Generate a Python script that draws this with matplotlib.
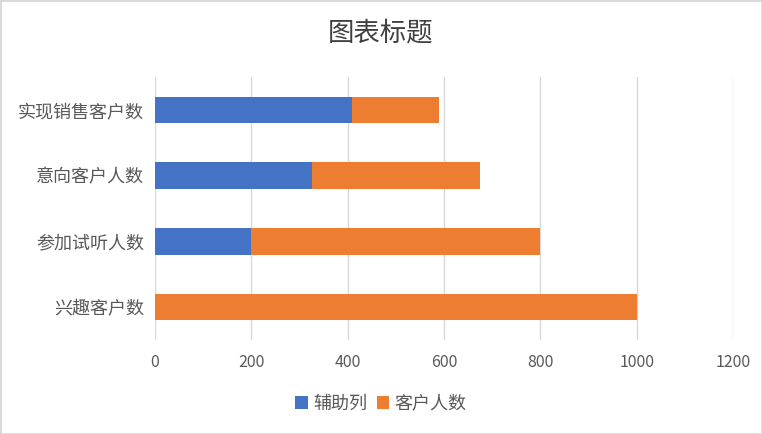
import matplotlib.pyplot as plt
from matplotlib.patches import Rectangle

plt.rcParams['font.family'] = ['Noto Sans CJK SC', 'DejaVu Sans']

# 数据
categories = ["兴趣客户数", "参加试听人数", "意向客户人数", "实现销售客户数"]
helper = [0, 200, 325, 410]
customers = [1000, 600, 350, 180]

fig = plt.figure(figsize=(7.62, 4.34), dpi=100)
ax = fig.add_axes([0.2034, 0.2166, 0.7586, 0.606])

ax.barh(categories, helper, height=0.4, color='#4472C4', label='辅助列', zorder=3)
ax.barh(categories, customers, left=helper, height=0.4, color='#ED7D31', label='客户人数', zorder=3)

ax.set_xlim(0, 1200)
ax.set_ylim(-0.5, 3.5)
ax.set_xticks(range(0, 1201, 200))
ax.grid(axis='x', color='#D9D9D9', linewidth=1, zorder=0)
for s in ax.spines.values():
    s.set_visible(False)
ax.tick_params(length=0, colors='#595959')
ax.tick_params(axis='y', labelsize=13, pad=8)
ax.tick_params(axis='x', labelsize=11.5, pad=10)

fig.suptitle("图表标题", y=0.955, fontsize=19, color='#404040', fontweight='medium')

fig.legend(loc='center', bbox_to_anchor=(0.5, 0.07), ncol=2, frameon=False,
           fontsize=13, labelcolor='#595959', handlelength=0.7, handleheight=0.7,
           handletextpad=0.3, columnspacing=0.5)

# 外框
fig.patches.append(Rectangle((0, 0), 1, 1, transform=fig.transFigure, fill=False,
                             edgecolor='#D9D9D9', linewidth=2))

fig.savefig('out.png', dpi=100)
